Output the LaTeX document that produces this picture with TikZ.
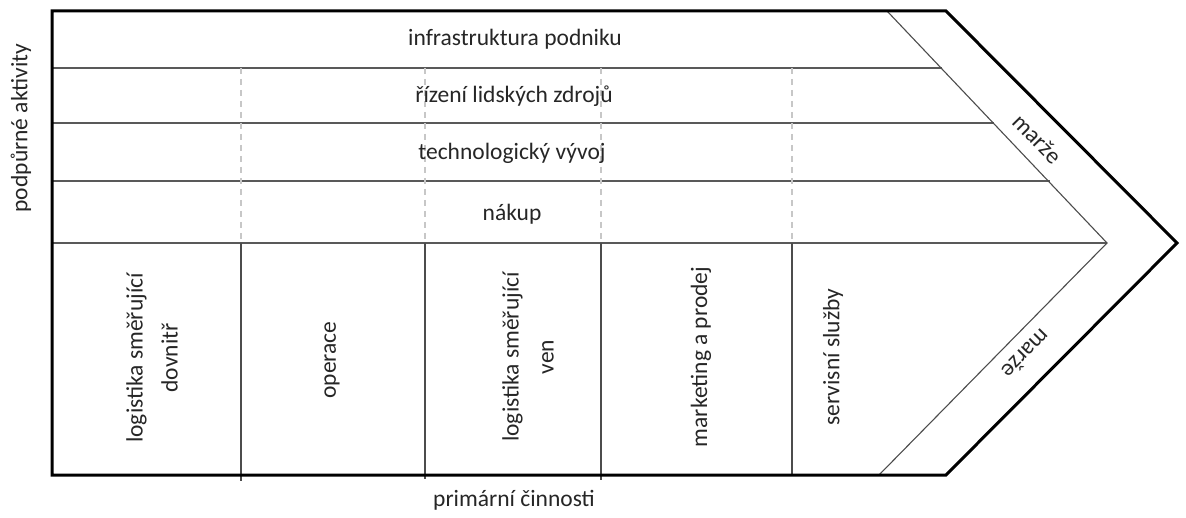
\documentclass[tikz,border=0pt]{standalone}
\usepackage{fontspec}
\setmainfont{Carlito}
\begin{document}
\begin{tikzpicture}[x=1pt,y=-1pt,
  every node/.style={font=\fontsize{23.5}{35}\selectfont, inner sep=0pt, text=black!85},
  outline/.style={line width=3pt, black, line join=miter},
  rowline/.style={line width=1.1pt, black!65},
  colline/.style={line width=1.1pt, black!70},
  guide/.style={line width=1.4pt, black!22, dash pattern=on 6pt off 5pt},
  edge/.style={line width=1.1pt, black!70},
  vlabel/.style={rotate=90, align=center}]
\useasboundingbox (0,0) rectangle (1186,518);

% corners of the arrow shape
\coordinate (TL) at (52,11);
\coordinate (TR) at (946,11);
\coordinate (TIP) at (1177,243);
\coordinate (BR) at (946,475);
\coordinate (BL) at (52,475);

% margin band
\coordinate (MT) at (887,11);
\coordinate (MTIP) at (1107,243);
\coordinate (MB) at (879,475);

% support rows
\coordinate (R1a) at (52,68);   \coordinate (R1b) at (941.5,68);
\coordinate (R2a) at (52,123);  \coordinate (R2b) at (994,123);
\coordinate (R3a) at (52,181);  \coordinate (R3b) at (1050,181);
\coordinate (R4a) at (52,243);

\draw[rowline] (R1a) -- (R1b);
\draw[rowline] (R2a) -- (R2b);
\draw[rowline] (R3a) -- (R3b);
\draw[rowline] (R4a) -- (MTIP);
\draw[edge] (MT) -- (MTIP) -- (MB);

% column guides through the support rows and primary dividers
\foreach \cx/\ext in {241/481, 425/479, 601/480, 792/475} {
  \draw[guide] (\cx,68) -- (\cx,243);
  \draw[colline] (\cx,243) -- (\cx,\ext);
}

\draw[outline] (TL) -- (TR) -- (TIP) -- (BR) -- (BL) -- cycle;

% support activities
\node[anchor=base] (infra) at (515,46) {infrastruktura podniku};
\node[anchor=base] (hr) at (514,103) {řízení lidských zdrojů};
\node[anchor=base] (tech) at (512,160) {technologický vývoj};
\node[anchor=base] (buy) at (512,221) {nákup};

% primary activities
\node[vlabel] (inlog) at (152,358) {logistika směřující\\dovnitř};
\node[vlabel] (ops) at (332,360) {operace};
\node[vlabel] (outlog) at (528,357) {logistika směřující\\ven};
\node[vlabel] (mkt) at (701,357) {marketing a prodej};
\node[vlabel] (svc) at (833,357) {servisní služby};

% margin
\node[rotate=-45.5] (m1) at (1037,139) {marže};
\node[rotate=225.5] (m2) at (1026,354) {marže};

% axis labels
\node[rotate=90] (sup) at (21,128) {podpůrné aktivity};
\node (prim) at (514,500) {primární činnosti};
\end{tikzpicture}
\end{document}
